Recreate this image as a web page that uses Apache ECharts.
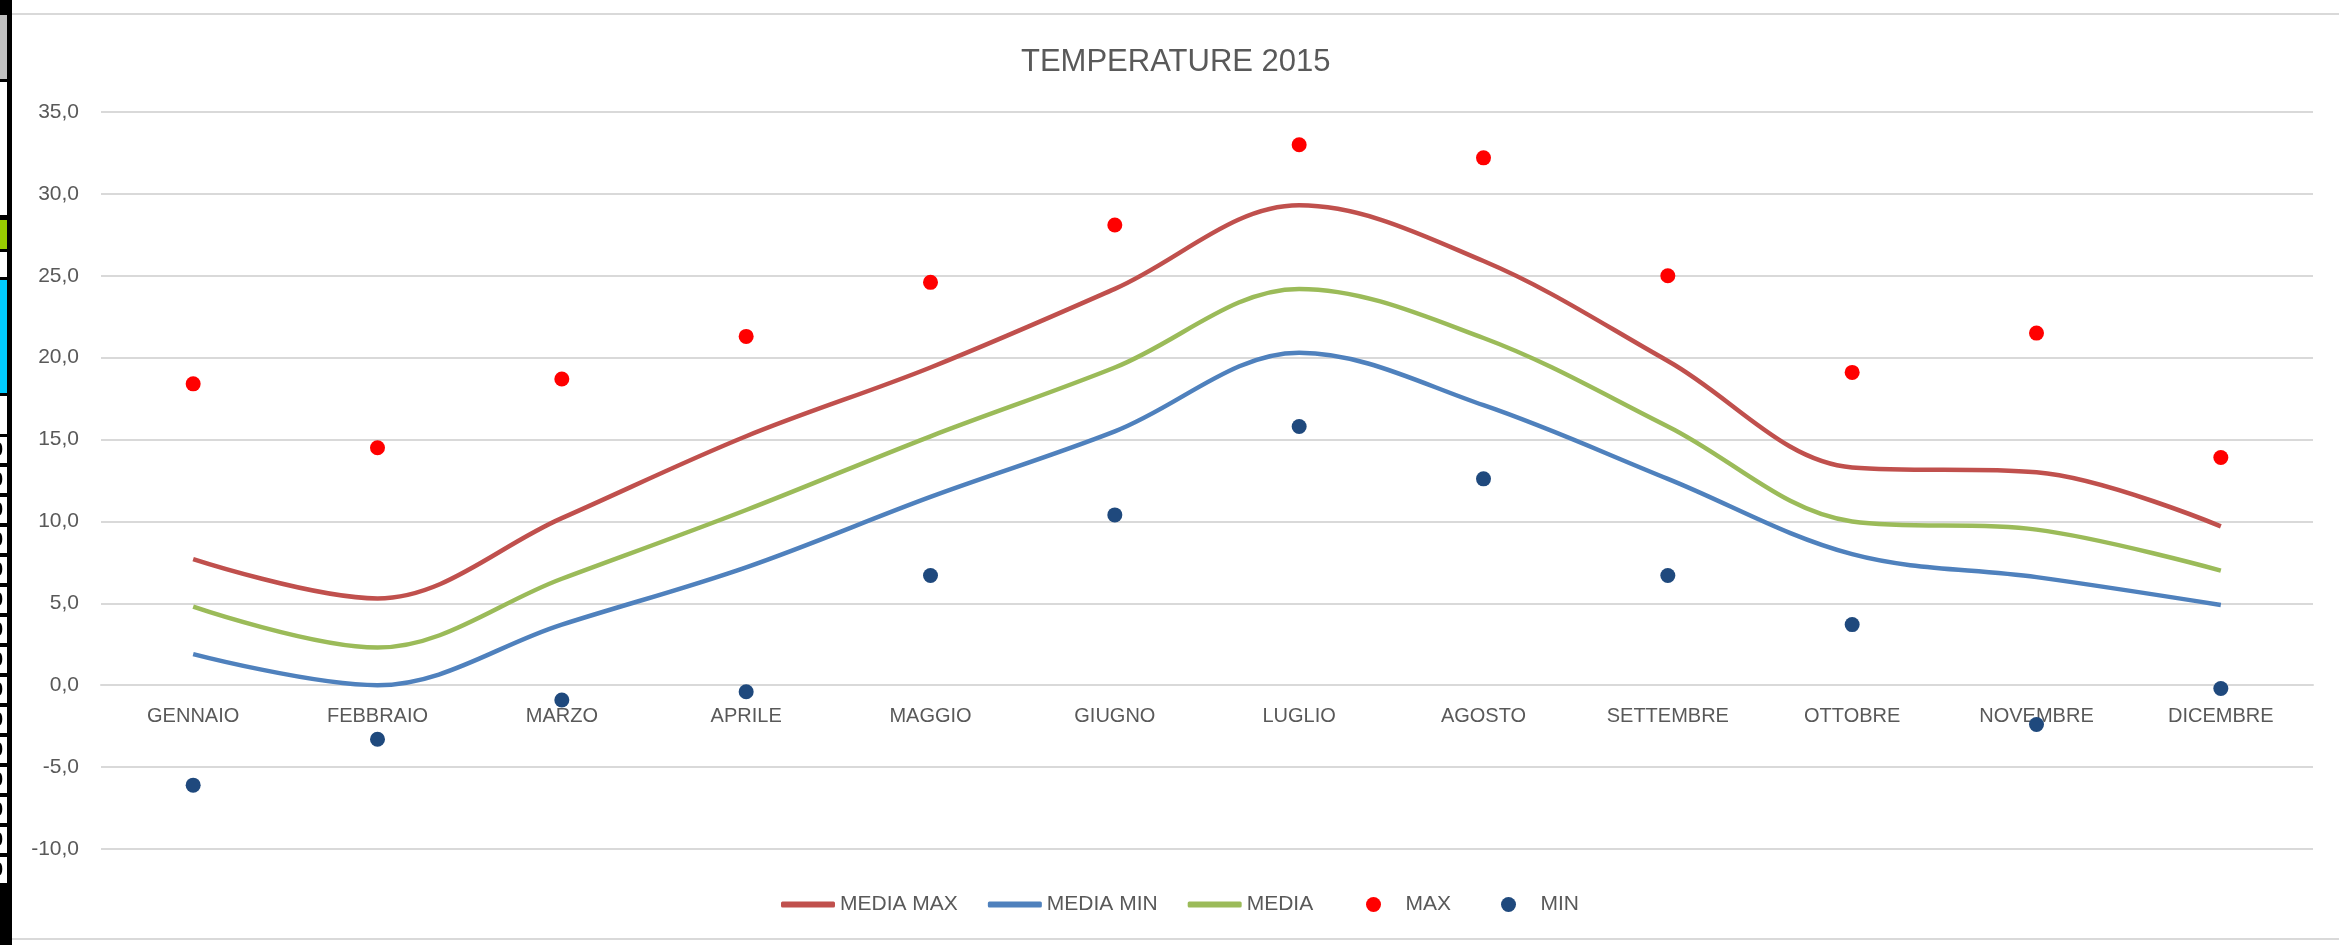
<!DOCTYPE html>
<html>
<head>
<meta charset="utf-8">
<style>
html,body{margin:0;padding:0;background:#fff;}
#chart{width:2339px;height:945px;}
</style>
<script src="https://cdn.jsdelivr.net/npm/echarts@6/dist/echarts.min.js"></script>
</head>
<body>
<div id="chart"></div>
<script>
const titleText = 'TEMPERATURE 2015';
const categories = ['GENNAIO','FEBBRAIO','MARZO','APRILE','MAGGIO','GIUGNO','LUGLIO','AGOSTO','SETTEMBRE','OTTOBRE','NOVEMBRE','DICEMBRE'];
const mediaMax = [7.7, 5.3, 10.2, 15.2, 19.4, 24.2, 29.3, 25.9, 19.8, 13.3, 13.0, 9.7];
const mediaMin = [1.9, 0.0, 3.7, 7.2, 11.5, 15.5, 20.3, 17.1, 12.6, 8.0, 6.6, 4.9];
const media    = [4.8, 2.3, 6.5, 10.7, 15.2, 19.4, 24.2, 21.2, 15.8, 10.0, 9.5, 7.0];
const maxT     = [18.4, 14.5, 18.7, 21.3, 24.6, 28.1, 33.0, 32.2, 25.0, 19.1, 21.5, 13.9];
const minT     = [-6.1, -3.3, -0.9, -0.4, 6.7, 10.4, 15.8, 12.6, 6.7, 3.7, -2.4, -0.2];
const seriesNames = ['MEDIA MAX', 'MEDIA MIN', 'MEDIA', 'MAX', 'MIN'];
const yMin = -10, yMax = 35, yStep = 5;

const FONT = "'Liberation Sans', Arial, sans-serif";
const TXT = '#595959';

const gridTop = 112, gridBottom = 96, H = 945;
const plotH = H - gridTop - gridBottom;
const zeroOffset = -plotH * (0 - yMin) / (yMax - yMin);

// Left spreadsheet strip decoration
const strip = [
  {type:'rect', shape:{x:0,y:0,width:12,height:945}, style:{fill:'#000'}, silent:true},
  {type:'rect', shape:{x:0,y:15,width:7,height:64}, style:{fill:'#c0c0c0'}, silent:true},
  {type:'rect', shape:{x:0,y:82,width:7,height:133}, style:{fill:'#fff'}, silent:true},
  {type:'rect', shape:{x:0,y:220,width:7,height:29}, style:{fill:'#99cc00'}, silent:true},
  {type:'rect', shape:{x:0,y:252,width:7,height:25}, style:{fill:'#fff'}, silent:true},
  {type:'rect', shape:{x:0,y:280,width:7,height:113}, style:{fill:'#00ccff'}, silent:true},
  {type:'rect', shape:{x:0,y:396,width:7,height:38}, style:{fill:'#fff'}, silent:true}
];
for (let i = 0; i < 15; i++) {
  const y = 437 + i * 30;
  if (y > 930) break;
  strip.push({type:'rect', shape:{x:0,y:y,width:7,height:26}, style:{fill:'#fff'}, silent:true});
  strip.push({type:'text', x:-8, y:y+3, style:{text:'0', font:"bold 20px 'Liberation Sans'", fill:'#000'}, silent:true});
}
strip.push({type:'rect', shape:{x:11,y:13,width:2328,height:2}, style:{fill:'#d9d9d9'}, silent:true});
strip.push({type:'rect', shape:{x:11,y:938,width:2328,height:2}, style:{fill:'#d9d9d9'}, silent:true});
strip.push({type:'rect', shape:{x:8,y:0,width:4,height:945}, style:{fill:'#000'}, silent:true, z:10});

const chart = echarts.init(document.getElementById('chart'));
chart.setOption({
  backgroundColor: '#fff',
  animation: false,
  title: {
    text: titleText,
    left: 1016,
    top: 42,
    textStyle: {fontFamily: FONT, fontSize: 31, fontWeight: 'normal', color: TXT}
  },
  graphic: strip,
  legend: [{
    data: seriesNames.slice(0, 3),
    left: 776, top: 889,
    icon: 'roundRect',
    itemWidth: 54, itemHeight: 6, itemGap: 30,
    textStyle: {fontFamily: FONT, fontSize: 21, color: TXT}
  }, {
    data: seriesNames.slice(3),
    left: 1361, top: 889,
    icon: 'circle',
    itemWidth: 54, itemHeight: 15, itemGap: 50,
    textStyle: {fontFamily: FONT, fontSize: 21, color: TXT}
  }],
  grid: {left: 101, right: 26, top: gridTop, bottom: gridBottom, containLabel: false},
  xAxis: {
    type: 'category',
    data: categories,
    boundaryGap: true,
    position: 'bottom',
    offset: zeroOffset,
    axisLine: {show: true, onZero: false, lineStyle: {color: '#d9d9d9', width: 2}},
    axisTick: {show: false},
    axisLabel: {fontFamily: FONT, fontSize: 20, color: TXT, margin: 21, interval: 0}
  },
  yAxis: {
    type: 'value',
    min: yMin, max: yMax, interval: yStep,
    axisLine: {show: false},
    axisTick: {show: false},
    splitLine: {lineStyle: {color: '#d9d9d9', width: 2}},
    axisLabel: {
      fontFamily: FONT, fontSize: 21, color: TXT, margin: 22,
      formatter: v => v.toFixed(1).replace('.', ',')
    }
  },
  series: [
    {name: 'MEDIA MAX', type: 'line', data: mediaMax, smooth: 0.35, symbol: 'none',
     lineStyle: {color: '#c0504d', width: 4.5}, itemStyle: {color: '#c0504d'}},
    {name: 'MEDIA MIN', type: 'line', data: mediaMin, smooth: 0.35, symbol: 'none',
     lineStyle: {color: '#4f81bd', width: 4.5}, itemStyle: {color: '#4f81bd'}},
    {name: 'MEDIA', type: 'line', data: media, smooth: 0.35, symbol: 'none',
     lineStyle: {color: '#9bbb59', width: 4.5}, itemStyle: {color: '#9bbb59'}},
    {name: 'MAX', type: 'scatter', data: maxT, symbol: 'circle', symbolSize: 15,
     itemStyle: {color: '#ff0000', opacity: 1}},
    {name: 'MIN', type: 'scatter', data: minT, symbol: 'circle', symbolSize: 15,
     itemStyle: {color: '#1f497d', opacity: 1}}
  ]
});
</script>
</body>
</html>
